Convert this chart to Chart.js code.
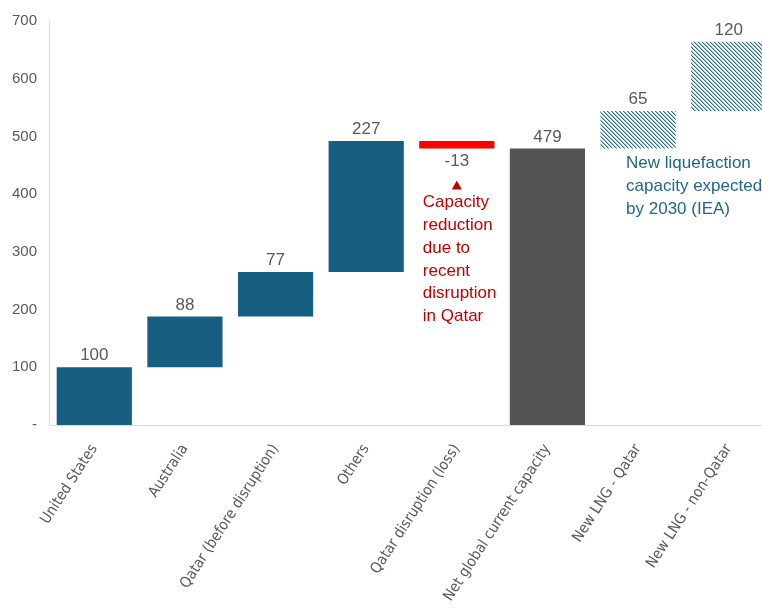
<!DOCTYPE html>
<html lang="en">
<head>
  <meta charset="UTF-8">
  <title>LNG liquefaction capacity</title>
  <script src="https://cdn.jsdelivr.net/npm/chart.js"></script>
  <style>
    html, body { margin: 0; padding: 0; background: #fff; overflow: hidden; }
  </style>
</head>
<body>
  <canvas id="grafico" width="790" height="612"></canvas>

  <script>
    // Datos del gráfico
    const categories = [
      'United States', 'Australia', 'Qatar (before disruption)', 'Others',
      'Qatar disruption (loss)', 'Net global current capacity',
      'New LNG - Qatar', 'New LNG - non-Qatar'
    ];
    const values = [100, 88, 77, 227, -13, 479, 65, 120];
    const kinds = ['step', 'step', 'step', 'step', 'loss', 'total', 'new', 'new'];
    const yTicks = [0, 100, 200, 300, 400, 500, 600, 700];
    const lossNote = ['Capacity', 'reduction', 'due to', 'recent', 'disruption', 'in Qatar'];
    const newNote = ['New liquefaction', 'capacity expected', 'by 2030 (IEA)'];

    const grey = '#595959';
    const mainFont = "'Liberation Sans', Arial, sans-serif";
    const narrowFont = "'Liberation Sans Narrow', 'DejaVu Sans Condensed', Arial, sans-serif";

    // trama rayada para la capacidad nueva
    function hatch() {
      const c = document.createElement('canvas');
      c.width = 4; c.height = 4;
      const g = c.getContext('2d');
      g.fillStyle = '#ffffff';
      g.fillRect(0, 0, 4, 4);
      for (let i = 0; i < 4; i++) {
        g.fillStyle = '#2b6d93';
        g.fillRect(i, i, 1, 1);
        g.fillStyle = '#9dbfd3';
        g.fillRect((i + 1) % 4, i, 1, 1);
      }
      return g.createPattern(c, 'repeat');
    }
    const pattern = hatch();

    // cascada: tramos flotantes
    let acc = 0;
    const ranges = values.map((v, i) => {
      if (kinds[i] === 'total') { acc = v; return [0, v]; }
      const start = acc;
      acc += v;
      return [start, acc];
    });

    const colors = kinds.map(k => {
      if (k === 'step') return '#175f80';
      if (k === 'loss') return '#ff0000';
      if (k === 'total') return '#545454';
      return pattern;
    });

    const labelsPlugin = {
      id: 'valueLabels',
      afterDatasetsDraw(chart) {
        const ctx = chart.ctx;
        const meta = chart.getDatasetMeta(0);
        ctx.save();
        ctx.font = '17px ' + mainFont;
        ctx.fillStyle = grey;
        ctx.textAlign = 'center';
        meta.data.forEach((bar, i) => {
          const top = Math.min(bar.y, bar.base);
          const bottom = Math.max(bar.y, bar.base);
          if (values[i] < 0) {
            ctx.textBaseline = 'top';
            ctx.fillText(String(values[i]), bar.x, bottom + 4);
          } else {
            ctx.textBaseline = 'bottom';
            ctx.fillText(String(values[i]), bar.x, top - 3);
          }
        });

        // nota de la pérdida
        const xs = chart.scales.x;
        const ys = chart.scales.y;
        const lossBar = meta.data[4];
        const lx = xs.getPixelForValue(4);
        const ly = Math.max(lossBar.y, lossBar.base);
        ctx.fillStyle = '#c00000';
        ctx.beginPath();
        ctx.moveTo(lx, ly + 32);
        ctx.lineTo(lx - 5, ly + 41);
        ctx.lineTo(lx + 5, ly + 41);
        ctx.closePath();
        ctx.fill();
        ctx.font = '17px ' + mainFont;
        ctx.textAlign = 'left';
        ctx.textBaseline = 'middle';
        lossNote.forEach((t, k) => {
          ctx.fillText(t, lx - 34, ly + 54 + k * 22.8);
        });

        // nota de capacidad nueva
        const nx = xs.getPixelForValue(6) - 12;
        const ny = ys.getPixelForValue(ranges[6][0]);
        ctx.fillStyle = '#1f6689';
        newNote.forEach((t, k) => {
          ctx.fillText(t, nx, ny + 15 + k * 22.8);
        });
        ctx.restore();
      }
    };

    new Chart(document.getElementById('grafico'), {
      type: 'bar',
      data: {
        labels: categories,
        datasets: [{
          data: ranges,
          backgroundColor: colors,
          borderWidth: 0,
          barPercentage: 0.83,
          categoryPercentage: 1
        }]
      },
      options: {
        responsive: false,
        animation: false,
        layout: { padding: { top: 19, right: 16, left: 0, bottom: 0 } },
        plugins: {
          legend: { display: false },
          tooltip: { enabled: false }
        },
        scales: {
          x: {
            grid: { display: false, drawTicks: false },
            border: { display: true, color: '#d9d9d9', width: 1 },
            ticks: {
              minRotation: 57,
              maxRotation: 57,
              autoSkip: false,
              padding: 16,
              color: grey,
              font: { size: 15, family: narrowFont }
            },
            afterFit: s => { s.height = 187; }
          },
          y: {
            min: 0,
            max: 700,
            afterBuildTicks: s => { s.ticks = yTicks.map(v => ({ value: v })); },
            grid: { display: false, drawTicks: false },
            border: { display: true, color: '#d9d9d9', width: 1 },
            ticks: {
              padding: 12,
              color: grey,
              font: { size: 15, family: mainFont },
              callback: v => v === 0 ? '-' : v
            },
            afterFit: s => { s.width = 49; }
          }
        }
      },
      plugins: [labelsPlugin]
    });
  </script>
</body>
</html>
